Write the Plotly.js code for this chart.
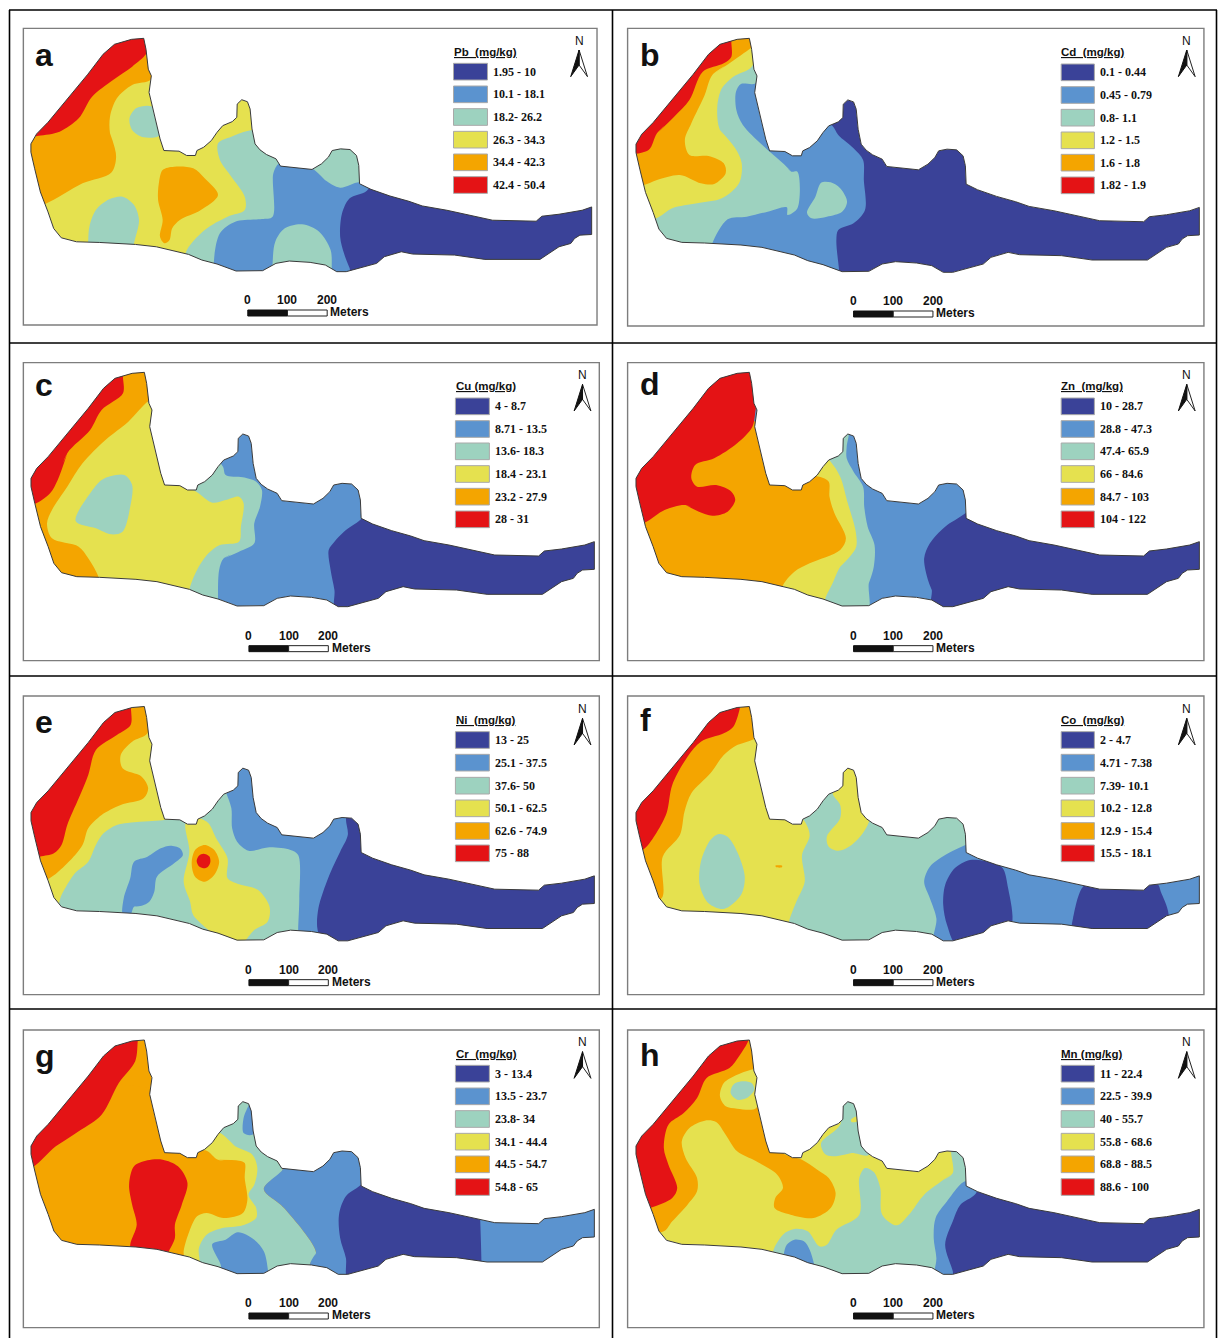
<!DOCTYPE html>
<html><head><meta charset="utf-8">
<script src="https://cdn.plot.ly/plotly-3.0.1.min.js"></script>
<style>html,body{margin:0;padding:0;background:#fff}#p{width:1218px;height:1338px}</style>
</head><body><div id="p"></div>
<script>
const classColors = ['#3a4298','#5b93cf','#9dd2bf','#e5e14f','#f4a500','#e41315'];
const D=0,B=1,T=2,Y=3,O=4,R=5;
const panelLetters = ['a','b','c','d','e','f','g','h'];
const legendTitles = ['Pb\u00A0 (mg/kg)','Cd\u00A0 (mg/kg)','Cu (mg/kg)','Zn\u00A0 (mg/kg)','Ni\u00A0 (mg/kg)','Co\u00A0 (mg/kg)','Cr\u00A0 (mg/kg)','Mn (mg/kg)'];
const classesPb = ['1.95 - 10','10.1 - 18.1','18.2- 26.2','26.3 - 34.3','34.4 - 42.3','42.4 - 50.4'];
const classesCd = ['0.1 - 0.44','0.45 - 0.79','0.8- 1.1','1.2 - 1.5','1.6 - 1.8','1.82 - 1.9'];
const classesCu = ['4 - 8.7','8.71 - 13.5','13.6- 18.3','18.4 - 23.1','23.2 - 27.9','28 - 31'];
const classesZn = ['10 - 28.7','28.8 - 47.3','47.4- 65.9','66 - 84.6','84.7 - 103','104 - 122'];
const classesNi = ['13 - 25','25.1 - 37.5','37.6- 50','50.1 - 62.5','62.6 - 74.9','75 - 88'];
const classesCo = ['2 - 4.7','4.71 - 7.38','7.39- 10.1','10.2 - 12.8','12.9 - 15.4','15.5 - 18.1'];
const classesCr = ['3 - 13.4','13.5 - 23.7','23.8- 34','34.1 - 44.4','44.5 - 54.7','54.8 - 65'];
const classesMn = ['11 - 22.4','22.5 - 39.9','40 - 55.7','55.8 - 68.6','68.8 - 88.5','88.6 - 100'];
const scaleLabels = ['0','100','200'];

// site boundary (map units of one panel crop)
const boundary = [352,67,358,100,364,160,372,180,366,230,380,300,395,370,405,405,445,407,465,420,488,420,492,405,510,395,530,375,545,350,560,330,585,318,597,305,598,265,610,252,625,258,632,280,637,340,645,385,658,403,675,417,700,430,712,452,750,457,795,462,820,445,838,425,848,405,870,400,895,402,912,420,918,450,920,505,950,522,1000,542,1050,558,1085,572,1150,585,1220,603,1270,615,1385,618,1400,603,1445,597,1506,585,1531,575,1531,658,1500,660,1486,670,1476,685,1445,695,1395,733,1310,733,1250,733,1170,720,1060,717,1030,710,985,725,965,745,915,760,885,770,860,770,830,750,790,742,735,738,700,745,665,767,595,768,545,747,505,735,470,718,385,695,330,688,235,682,175,680,135,668,115,640,100,590,80,530,65,460,55,410,55,385,70,355,100,320,150,250,205,175,245,115,275,85,320,70];

const zonesA = [[Y,null],
 [O,[370,178,320,195,280,235,262,290,262,340,278,410,265,458,190,490,92,552,30,570,20,340,150,100,300,40,380,90]],
 [R,[40,350,75,347,130,335,180,295,215,230,270,180,320,140,358,100,380,30,250,30,40,330]],
 [T,[360,257,330,265,313,295,320,330,350,352,395,345,400,300,385,265]],
 [T,[205,700,205,660,208,620,225,570,260,538,295,530,325,555,338,600,325,670,320,710]],
 [O,[400,450,430,440,480,445,510,475,545,525,500,570,445,600,425,625,418,660,405,670,393,650,400,600,388,540,390,490]],
 [T,[640,330,580,350,545,370,550,420,580,470,615,530,615,570,570,590,510,630,460,700,470,770,900,800,1000,400]],
 [B,[705,430,690,460,688,590,660,597,590,605,550,640,534,730,540,790,900,790,950,500,915,487,865,503,825,480,795,448,750,420]],
 [T,[688,790,688,730,695,665,720,625,765,613,810,635,840,690,843,745,843,790]],
 [D,[935,512,890,535,870,580,865,650,875,700,890,745,895,790,1600,790,1600,400,1000,400]]];
const zonesB = [[D,null],
 [B,[540,300,570,318,585,345,625,385,650,420,652,480,655,570,625,610,585,630,580,660,587,750,590,790,200,790,200,150,430,150,450,380]],
 [T,[380,145,368,190,330,192,317,215,318,270,335,315,400,390,440,430,462,455,478,455,478,565,452,585,450,562,400,575,345,590,295,598,255,670,250,700,90,700,40,400,340,100,400,100]],
 [T,[540,488,565,487,590,505,608,545,595,575,555,590,515,595,503,578,525,530]],
 [Y,[358,140,310,170,280,205,268,260,275,330,315,385,332,430,325,490,280,535,215,550,150,565,108,595,60,600,30,400,300,50,380,50]],
 [O,[355,85,300,130,255,165,235,225,200,310,183,360,195,405,245,408,285,430,290,460,260,492,225,490,170,465,110,480,75,495,20,500,20,380,250,40,340,30,370,70]],
 [R,[305,60,305,110,285,130,230,155,195,240,155,290,110,340,88,390,20,400,40,340,250,40,310,40]]];
const zonesC = [[B,null],
 [D,[920,507,875,545,850,575,835,600,840,660,850,720,857,790,1600,790,1600,400,1000,400]],
 [T,[558,350,565,375,610,382,645,395,660,420,655,470,640,520,640,580,600,605,560,625,548,660,545,760,545,790,440,790,440,400,540,330]],
 [Y,[360,155,420,300,440,400,488,425,530,458,565,450,600,440,612,460,605,530,600,575,550,585,520,610,490,660,470,720,470,760,100,760,100,150]],
 [T,[265,378,300,375,320,405,315,470,295,545,265,553,225,535,172,513,210,430,240,390]],
 [O,[360,155,310,215,250,270,190,340,150,410,110,480,97,520,110,565,180,590,205,625,232,682,235,720,100,720,20,450,280,40,360,40,370,150]],
 [R,[296,78,296,130,240,180,210,240,150,310,125,390,105,430,65,462,20,470,20,380,280,40,300,40]]];
const zonesD = [[B,null],
 [D,[918,490,865,530,825,580,810,625,820,690,830,720,828,760,840,790,1600,790,1600,400,1000,400]],
 [T,[612,240,607,290,607,325,625,365,650,410,653,470,662,530,680,585,678,650,665,700,660,790,450,790,450,400,540,300,590,240]],
 [Y,[565,335,590,380,610,460,630,540,632,590,615,620,590,650,570,700,550,750,550,790,420,790,420,400,540,310]],
 [O,[535,380,560,395,562,440,575,490,605,565,590,600,510,640,470,665,438,712,440,790,30,790,30,400,360,210,420,400,500,380]],
 [R,[372,165,360,230,320,280,260,325,210,345,200,385,215,410,265,405,305,425,315,450,295,485,255,497,220,485,185,465,130,480,80,517,20,540,20,380,280,40,380,40,385,150]]];
const zonesE = [[T,null],
 [B,[567,325,580,370,582,430,595,470,625,497,680,487,735,495,755,510,758,640,755,735,755,790,1000,790,1000,400,900,350,640,230,560,300]],
 [D,[882,395,885,450,865,500,835,575,808,670,806,735,830,790,1600,790,1600,400,1000,400,920,380]],
 [B,[420,482,445,490,453,510,430,535,385,575,378,620,365,650,345,662,325,665,315,690,296,690,298,640,315,580,325,530,360,515,395,490]],
 [Y,[497,400,520,415,540,460,570,520,570,580,600,598,650,615,680,665,675,710,640,735,610,775,590,790,530,745,520,735,480,690,472,650,455,590,470,500,460,415,480,395]],
 [O,[510,480,535,495,548,530,535,570,510,590,485,575,476,535,485,495]],
 [R,[507,506,522,514,525,530,518,546,507,550,495,544,489,528,495,512]],
 [Y,[405,405,340,410,280,420,245,445,225,480,205,530,170,565,135,630,120,670,50,650,40,400,350,100,420,300,430,400]],
 [O,[360,145,320,170,290,210,295,250,345,275,362,310,350,340,290,360,240,390,205,430,190,480,150,535,100,582,30,600,30,400,300,40,370,60]],
 [R,[317,65,316,120,280,150,225,195,205,270,180,340,150,420,135,480,115,505,78,515,20,530,20,380,280,40,320,40]]];
const zonesF = [[T,null],
 [Y,[570,325,590,360,590,400,555,455,560,485,585,497,620,480,662,420,680,300,640,230,580,230]],
 [Y,[490,400,510,450,490,510,497,590,475,650,455,715,455,790,60,790,60,400,360,150,440,380]],
 [T,[272,447,295,455,320,500,340,575,330,630,285,672,245,655,222,600,225,530,250,465]],
 [O,[420,542,438,542,437,547,423,547]],
 [O,[368,160,320,180,285,210,250,265,200,325,182,380,170,450,125,515,122,640,60,640,20,450,280,40,350,50,375,150]],
 [R,[328,65,310,125,285,145,225,170,190,215,150,300,135,385,105,450,72,495,20,500,20,380,280,40,330,40]],
 [B,[918,480,865,510,825,545,810,590,825,640,842,700,840,790,1600,790,1600,400,1000,400,930,470]],
 [D,[930,525,985,532,1015,548,1030,610,1040,720,1000,790,900,790,870,720,860,660,865,600,890,550]],
 [D,[1228,603,1200,700,1197,730,1220,790,1440,790,1450,685,1430,620,1422,598,1380,590,1280,590]]];
const zonesG = [[O,null],
 [T,[600,240,625,240,700,430,714,455,665,513,718,570,802,705,785,740,780,790,400,790,400,400,540,300]],
 [Y,[555,348,590,385,635,410,648,450,640,500,625,530,645,570,645,600,610,622,550,632,515,650,495,690,493,760,300,760,300,300,500,300,540,340]],
 [O,[515,398,545,425,600,428,615,435,615,480,622,545,610,585,560,600,515,585,490,595,470,640,455,700,455,740,100,740,100,240,440,240,470,395]],
 [R,[335,66,328,130,285,195,240,290,180,340,120,385,60,447,20,460,20,380,280,40,338,40]],
 [R,[360,427,400,425,440,445,465,495,450,560,432,620,432,660,415,702,400,730,320,730,315,680,332,620,320,560,312,500,325,445]],
 [B,[620,275,612,300,612,345,635,350,660,300,635,250]],
 [B,[530,678,565,665,597,643,640,665,665,700,675,750,675,790,560,790,552,740]],
 [B,[714,455,665,513,718,570,802,705,785,740,785,790,1600,790,1600,400,1000,400,930,350,800,400,720,430]],
 [D,[918,502,880,535,862,590,865,660,880,720,888,790,1235,790,1235,725,1232,606,1232,400,1000,400]]];
const zonesH = [[Y,null],
 [O,[400,300,440,405,490,425,530,455,560,480,578,525,565,570,520,600,460,590,418,570,420,540,440,510,425,470,370,430,320,400,290,350,265,312,235,308,195,330,175,370,185,420,215,480,215,520,190,560,150,610,128,640,60,640,20,450,280,40,360,50]],
 [Y,[366,152,320,170,285,195,275,235,290,265,320,272,370,270,380,150]],
 [T,[332,190,358,195,365,215,345,240,320,245,303,225,310,200]],
 [R,[350,66,325,115,300,150,240,180,215,240,180,285,140,320,128,390,140,440,163,510,150,540,92,570,20,590,20,380,280,40,352,40]],
 [T,[600,240,640,240,665,410,620,405,570,415,550,408,540,375,590,320]],
 [Y,[618,305,635,295,635,310,620,312]],
 [T,[655,450,678,462,695,510,700,590,738,622,770,590,810,530,855,490,885,465,883,390,925,390,940,500,900,790,520,790,520,740,415,710,440,650,470,633,505,640,535,685,555,680,580,635,640,590,640,480]],
 [B,[470,665,495,670,510,695,522,740,530,790,440,790,442,710,450,680]],
 [B,[918,490,870,550,840,600,835,660,842,720,840,790,1000,790,1000,500,940,515]],
 [D,[945,527,905,560,885,610,865,680,885,760,888,790,1600,790,1600,400,1000,400]]];

const allZones = [zonesA,zonesB,zonesC,zonesD,zonesE,zonesF,zonesG,zonesH];
const allClasses = [classesPb,classesCd,classesCu,classesZn,classesNi,classesCo,classesCr,classesMn];

// page placement of every panel
const cropX = [10,615,10,615,10,615,10,615];
const cropY = [20,20,350,350,685,685,1018,1018];
const W=600,H=320,RX=1572,RY=960;
// boundary fit per panel: sx, sy, dy
const fit = [[.9954,.9957,-12],[1,.9985,-12],[1,1,0],[1,1,0],[1,1,-2.5],[1,1,-2.5],[1,1,-1],[1,1,-1]];
const frames = [[35,1538,25,915],[33,1543,25,918],[35,1544,38,932],[33,1543,38,932],[35,1544,33,929],[33,1543,33,929],[35,1544,36,929],[33,1543,36,929]];
const legendX = [1160,1167,1165,1167,1165,1167,1165,1167];
const legendW = [87,85,87,85,87,85,87,85];
const titleY = [95,95,108,108,105,105,107,107];
const swatchY = [[155,223,291,359,427,495],[157,225,293,361,428,496],[169,237,304,372,440,508],[169,237,304,372,440,508],[165,233,302,370,438,505],[165,233,302,370,438,505],[167,235,303,371,439,507],[167,235,303,371,439,507]];
const northX = [1491,1498,1500,1498,1500,1498,1500,1498];
const northY = [62,62,75,75,72,72,73,73];
const barX = [623,625,626,625,626,625,626,625];
const barY = [870,873,887,887,884,884,885,885];
const barLen = 208;

const traces=[], shapes=[], annotations=[];
const layout = {width:1218,height:1338,margin:{l:0,r:0,t:0,b:0},paper_bgcolor:'#fff',plot_bgcolor:'rgba(0,0,0,0)',showlegend:false,autosize:false};

function txt(xr,yr,x,y,t,size,fam,anchor){
  annotations.push({xref:xr,yref:yr,x:x,y:y,text:t,showarrow:false,xanchor:anchor||'left',yanchor:'middle',borderpad:0,
    font:{family:fam,size:size,color:'#111'}});
}
// Close a zone so its spline has no seam: start at its gentlest convex vertex and run past the start.
function seamless(xs,ys){
  const m=xs.length;
  let area=0;
  for(let k=0;k<m;k++){const j=(k+1)%m;area+=xs[k]*ys[j]-xs[j]*ys[k];}
  let best=0,bestC=Infinity;
  for(let k=0;k<m;k++){
    const a=(k+m-1)%m,b=(k+1)%m;
    const c=(xs[k]-xs[a])*(ys[b]-ys[k])-(ys[k]-ys[a])*(xs[b]-xs[k]);
    if(c*area>0&&Math.abs(c)<bestC){bestC=Math.abs(c);best=k;}
  }
  const rx=[],ry=[];
  for(let k=-1;k<=m+1;k++){const j=(best+k+m)%m;rx.push(xs[j]);ry.push(ys[j]);}
  return [rx,ry];
}
for(let i=0;i<8;i++){
  const n=i?String(i+1):'', xa='xaxis'+n, ya='yaxis'+n, xr='x'+n, yr='y'+n;
  layout[xa]={domain:[cropX[i]/1218,(cropX[i]+W)/1218],range:[0,RX],visible:false,fixedrange:true,anchor:yr};
  layout[ya]={domain:[1-(cropY[i]+H)/1338,1-cropY[i]/1338],range:[RY,0],visible:false,fixedrange:true,anchor:xr};
  const [sx,sy,dy]=fit[i];
  const bx=[],by=[];
  for(let k=0;k<boundary.length;k+=2){bx.push(boundary[k]*sx);by.push(67+dy+(boundary[k+1]-67)*sy);}
  bx.push(bx[0]);by.push(by[0]);
  allZones[i].forEach(z=>{
    let xs=[],ys=[];
    if(z[1]===null){xs=bx.slice();ys=by.slice();}
    else{
      for(let k=0;k<z[1].length;k+=2){xs.push(z[1][k]);ys.push(z[1][k+1]);}
      [xs,ys]=seamless(xs,ys);
    }
    traces.push({type:'scatter',mode:'lines',x:xs,y:ys,xaxis:xr,yaxis:yr,fill:'toself',fillcolor:classColors[z[0]],
      line:{width:0,shape:z[1]===null?'linear':'spline',smoothing:0.9,color:classColors[z[0]]},hoverinfo:'skip'});
  });
  // white surround that trims the zones to the site boundary
  traces.push({type:'scatter',mode:'lines',xaxis:xr,yaxis:yr,fill:'toself',fillcolor:'#fff',line:{width:0},hoverinfo:'skip',
    x:[0,0,RX,RX,0].concat(bx,[0]),y:[0,RY,RY,0,0].concat(by,[0])});
  traces.push({type:'scatter',mode:'lines',x:bx,y:by,xaxis:xr,yaxis:yr,line:{width:1,color:'#3a3a3a'},hoverinfo:'skip'});

  // frame
  const f=frames[i];
  shapes.push({type:'rect',xref:xr,yref:yr,x0:f[0],x1:f[1],y0:f[2],y1:f[3],line:{color:'#7d7d7d',width:1.4},fillcolor:'rgba(0,0,0,0)'});
  // panel letter
  const ly=[105,105,105,103,112,105,115,110][i];
  txt(xr,yr,63,ly,'<b>'+panelLetters[i]+'</b>',32,'Liberation Sans');
  // legend
  const lx=legendX[i], lw=legendW[i];
  annotations.push({xref:xr,yref:yr,x:lx,y:titleY[i],text:'<b>'+legendTitles[i]+'</b>',showarrow:false,xanchor:'left',yanchor:'middle',borderpad:0,
    font:{family:'Liberation Sans',size:11.5,color:'#111',lineposition:'under'}});
  swatchY[i].forEach((sy0,c)=>{
    shapes.push({type:'rect',xref:xr,yref:yr,x0:lx+2,x1:lx+lw+4,y0:sy0-25,y1:sy0+25,fillcolor:classColors[c],line:{color:'#a9a9a9',width:1}});
    txt(xr,yr,lx+lw+15,sy0,'<b>'+allClasses[i][c]+'</b>',12,'Liberation Serif');
  });
  // north arrow
  const nx=northX[i], ny=northY[i];
  txt(xr,yr,nx,ny,'N',12,'Liberation Sans','center');
  shapes.push({type:'path',xref:xr,yref:yr,path:`M${nx} ${ny+28} L${nx+22} ${ny+108} L${nx} ${ny+73} Z`,fillcolor:'#fff',line:{color:'#222',width:1}});
  shapes.push({type:'path',xref:xr,yref:yr,path:`M${nx} ${ny+28} L${nx-22} ${ny+108} L${nx} ${ny+73} Z`,fillcolor:'#111',line:{color:'#111',width:1}});
  // scale bar
  const bxx=barX[i], byy=barY[i];
  shapes.push({type:'rect',xref:xr,yref:yr,x0:bxx,x1:bxx+barLen/2,y0:byy,y1:byy+18,fillcolor:'#111',line:{color:'#111',width:1}});
  shapes.push({type:'rect',xref:xr,yref:yr,x0:bxx+barLen/2,x1:bxx+barLen,y0:byy,y1:byy+18,fillcolor:'#fff',line:{color:'#222',width:1}});
  scaleLabels.forEach((s,k)=>txt(xr,yr,bxx+k*barLen/2,byy-29,'<b>'+s+'</b>',12,'Liberation Sans','center'));
  txt(xr,yr,bxx+214,byy+7,'<b>Meters</b>',12,'Liberation Sans');
}
// table rules of the figure
const ruleX=[9.5,612.5,1216.5], ruleY=[10,343,676,1009];
ruleX.forEach(x=>shapes.push({type:'line',xref:'paper',yref:'paper',x0:x/1218,x1:x/1218,y0:1-10/1338,y1:0,line:{color:'#000',width:1.6}}));
ruleY.forEach(y=>shapes.push({type:'line',xref:'paper',yref:'paper',x0:9/1218,x1:1217/1218,y0:1-y/1338,y1:1-y/1338,line:{color:'#000',width:1.6}}));
layout.shapes=shapes; layout.annotations=annotations;
Plotly.newPlot('p',traces,layout,{displayModeBar:false,staticPlot:true});
</script></body></html>
